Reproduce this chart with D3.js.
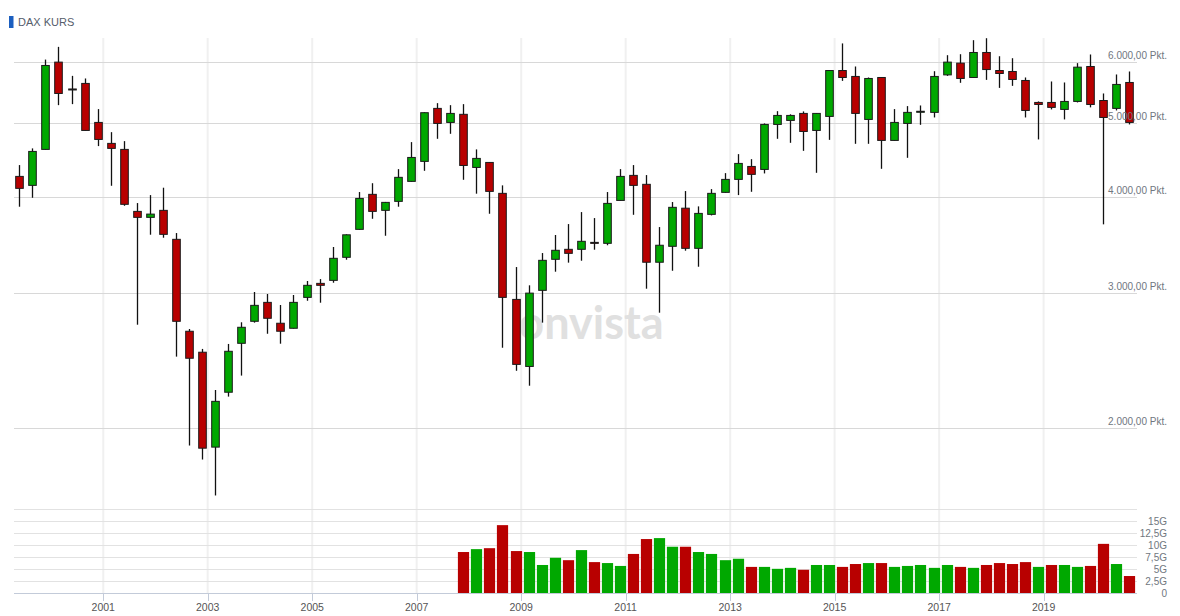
<!DOCTYPE html>
<html>
  <head>
    <meta charset="utf-8">
    <title>DAX Kurs - Quartalskerzen</title>
    <script src="https://d3js.org/d3.v7.min.js"></script>
    <style>
      body { margin: 0; background: #fff; }
      svg { display: block; font-family: "Liberation Sans", Arial, sans-serif; }
    </style>
  </head>

  <body>
    <svg width="1180" height="616"></svg>

    <script type="text/javascript">
      // quarterly candles, first one is Q2 1999
      var firstQuarter = new Date(1999, 3, 1);

      var open = [4254, 4141, 4613, 5994, 5530, 5623, 5002, 4697, 4613, 3830,
        3762, 3842, 3522, 2673, 2510, 1888, 2226, 2578, 2754, 2915,
        2738, 2697, 2959, 3086, 3114, 3337, 3629, 4031, 3842, 3947,
        4191, 4450, 5217, 5002, 5125, 4370, 4436, 4043, 2941, 2405,
        3022, 3317, 3418, 3418, 3490, 3480, 3958, 4267, 4154, 3288,
        3449, 3867, 3428, 3796, 4055, 4216, 4383, 4344, 4972, 5032,
        5139, 4883, 5093, 5845, 5742, 5047, 5724, 4739, 4987, 5165,
        5155, 5769, 5976, 5724, 6170, 5845, 5828, 5673, 5311, 5311,
        5201, 5327, 5916, 5342, 5217, 5639];
      var high = [4401, 4627, 6040, 6275, 5752, 5707, 5206, 4858, 4729, 3927,
        4022, 4112, 3589, 2691, 2535, 2241, 2573, 2746, 3007, 2989,
        2892, 2980, 3108, 3126, 3442, 3575, 4059, 4168, 3940, 4348,
        4715, 5155, 5300, 5268, 5284, 4613, 4440, 4141, 3241, 3068,
        3380, 3568, 3687, 3822, 3754, 4059, 4348, 4401, 4271, 3654,
        3939, 4071, 3888, 4095, 4296, 4548, 4480, 4987, 5174, 5125,
        5170, 5142, 5850, 6340, 5916, 5724, 5728, 5206, 5253, 5263,
        5833, 6120, 6138, 6402, 6440, 6101, 6065, 5724, 5327, 5656,
        5639, 5976, 6133, 5456, 5776, 5828];
      var low = [3884, 3990, 4610, 5268, 5284, 4880, 4659, 4136, 3895, 2726,
        3571, 3539, 2477, 1897, 1819, 1633, 2197, 2340, 2743, 2653,
        2575, 2695, 2929, 2912, 3092, 3313, 3625, 3746, 3560, 3884,
        4188, 4326, 4762, 4834, 4211, 4039, 3803, 2544, 2374, 2270,
        2743, 3196, 3284, 3303, 3414, 3460, 3955, 3791, 3037, 2826,
        3205, 3404, 3244, 3784, 4050, 4022, 4062, 4292, 4762, 4705,
        4593, 4300, 4747, 5666, 4691, 4691, 4352, 4735, 4498, 4966,
        5077, 5752, 5633, 5720, 5683, 5548, 5582, 5077, 4753, 5201,
        5047, 5311, 5233, 3684, 5185, 4972];
      var close = [4104, 4585, 5934, 5456, 5520, 4883, 4753, 4627, 3912, 3762,
        3799, 3575, 2754, 2465, 1882, 2166, 2517, 2705, 2889, 2779,
        2673, 2915, 3068, 3068, 3327, 3570, 3982, 3830, 3935, 4242,
        4503, 5150, 4987, 5139, 4396, 4490, 4067, 2959, 2420, 2997,
        3307, 3408, 3377, 3501, 3485, 3923, 4254, 4141, 3288, 3460,
        3877, 3428, 3807, 4043, 4216, 4423, 4280, 4972, 5108, 5108,
        4868, 5139, 5845, 5724, 5139, 5707, 4739, 5002, 5155, 5172,
        5742, 5994, 5707, 6170, 5862, 5793, 5690, 5185, 5279, 5233,
        5327, 5904, 5279, 5077, 5606, 5002];

      // volume in billions, available from Q4 2007 on
      var volumeStart = 34;
      var volume = [8.6, 9.2, 9.4, 14.2, 8.8, 8.6, 5.9, 7.4, 6.9, 9.0,
        6.5, 6.3, 5.7, 8.2, 11.3, 11.5, 9.7, 9.7, 8.6, 8.2,
        6.9, 7.2, 5.5, 5.5, 5.1, 5.3, 4.9, 5.9, 5.9, 5.5,
        6.1, 6.3, 6.3, 5.5, 5.7, 5.9, 5.3, 5.9, 5.5, 5.3,
        5.9, 6.3, 6.1, 6.5, 5.5, 5.9, 5.9, 5.5, 5.7, 10.3,
        6.1, 3.6];

      var priceTicks = [2000, 3000, 4000, 5000, 6000];
      var volumeTicks = [0, 2.5, 5, 7.5, 10, 12.5, 15, 17.5];
      var yearTicks = [2001, 2003, 2005, 2007, 2009, 2011, 2013, 2015, 2017, 2019];

      var red = "#b80000";
      var green = "#00a800";

      var de = d3.formatLocale({ decimal: ",", thousands: ".", grouping: [3], currency: ["", " €"] });
      var fmtPrice = de.format(",.2f");
      var fmtVol = de.format(".1~f");

      var candles = open.map(function (o, i) {
        return {
          date: d3.timeDay.offset(d3.timeMonth.offset(firstQuarter, 3 * i), 53),
          open: o, high: high[i], low: low[i], close: close[i]
        };
      });

      var vols = volume.map(function (v, j) {
        var i = j + volumeStart;
        return { date: candles[i].date, value: v, up: close[i] >= close[i - 1] };
      });

      var left = 14, right = 1137;
      var svg = d3.select("svg");

      var x = d3.scaleTime()
        .domain([new Date(1999, 3, 18), new Date(2020, 9, 15)])
        .range([left, right]);
      var y = d3.scaleLog().domain([1587, 6444]).range([505, 38]);
      var yv = d3.scaleLinear().domain([0, 17.5]).range([593.3, 509.3]);

      // vertical grid
      svg.append("g")
        .selectAll("line")
        .data(yearTicks)
        .enter()
        .append("line")
        .attr("x1", function (d) { return x(new Date(d, 0, 1)); })
        .attr("x2", function (d) { return x(new Date(d, 0, 1)); })
        .attr("y1", 38)
        .attr("y2", 593)
        .style("stroke", "#f0f0f0")
        .style("stroke-width", 2);

      // horizontal grid, price panel
      svg.append("g")
        .selectAll("line")
        .data(priceTicks)
        .enter()
        .append("line")
        .attr("x1", left)
        .attr("x2", right)
        .attr("y1", function (d) { return Math.round(y(d)) + 0.5; })
        .attr("y2", function (d) { return Math.round(y(d)) + 0.5; })
        .style("stroke", "#d8d8d8");

      // horizontal grid, volume panel
      svg.append("g")
        .selectAll("line")
        .data(volumeTicks.slice(1))
        .enter()
        .append("line")
        .attr("x1", left)
        .attr("x2", right)
        .attr("y1", function (d) { return Math.round(yv(d)) + 0.5; })
        .attr("y2", function (d) { return Math.round(yv(d)) + 0.5; })
        .style("stroke", "#e2e2e2");

      // watermark
      svg.append("text")
        .attr("x", 591)
        .attr("y", 339)
        .attr("text-anchor", "middle")
        .style("font-family", "Lato, sans-serif")
        .style("font-weight", "bold")
        .style("font-size", "45px")
        .style("fill", "#e0e0e0")
        .text("onvista");

      // candles
      var cg = svg.append("g");
      cg.selectAll("line")
        .data(candles)
        .enter()
        .append("line")
        .attr("x1", function (d) { return Math.round(x(d.date)) + 0.5; })
        .attr("x2", function (d) { return Math.round(x(d.date)) + 0.5; })
        .attr("y1", function (d) { return y(d.high); })
        .attr("y2", function (d) { return y(d.low); })
        .style("stroke", "#111")
        .style("stroke-width", 1.3);

      cg.selectAll("rect")
        .data(candles)
        .enter()
        .append("rect")
        .attr("x", function (d) { return Math.round(x(d.date)) + 0.5 - 3.8; })
        .attr("y", function (d) { return y(Math.max(d.open, d.close)); })
        .attr("width", 7.6)
        .attr("height", function (d) {
          return Math.max(y(Math.min(d.open, d.close)) - y(Math.max(d.open, d.close)), 1);
        })
        .style("fill", function (d) { return d.close >= d.open ? green : red; })
        .style("stroke", "#1a1a1a")
        .style("stroke-width", 1);

      // volume bars
      svg.append("g")
        .selectAll("rect")
        .data(vols)
        .enter()
        .append("rect")
        .attr("x", function (d) { return Math.round(x(d.date)) + 0.5 - 5.6; })
        .attr("y", function (d) { return yv(d.value); })
        .attr("width", 11.2)
        .attr("height", function (d) { return yv(0) - yv(d.value); })
        .style("fill", function (d) { return d.up ? green : red; });

      // price labels
      svg.append("g")
        .selectAll("text")
        .data(priceTicks)
        .enter()
        .append("text")
        .attr("x", 1167)
        .attr("y", function (d) { return y(d) - 3; })
        .attr("text-anchor", "end")
        .style("font-size", "10px")
        .style("fill", "#707780")
        .text(function (d) { return fmtPrice(d) + " Pkt."; });

      // volume labels
      svg.append("g")
        .selectAll("text")
        .data(volumeTicks.slice(0, -1))
        .enter()
        .append("text")
        .attr("x", 1167)
        .attr("y", function (d) { return yv(d); })
        .attr("dy", "0.35em")
        .attr("text-anchor", "end")
        .style("font-size", "10px")
        .style("fill", "#707780")
        .text(function (d) { return d === 0 ? "0" : fmtVol(d) + "G"; });

      // x axis
      var xAxis = svg.append("g");
      xAxis.append("line")
        .attr("x1", left)
        .attr("x2", right)
        .attr("y1", 593.5)
        .attr("y2", 593.5)
        .style("stroke", "#c3cbd9");
      xAxis.selectAll(".tick")
        .data(yearTicks)
        .enter()
        .append("line")
        .attr("x1", function (d) { return Math.round(x(new Date(d, 0, 1))) + 0.5; })
        .attr("x2", function (d) { return Math.round(x(new Date(d, 0, 1))) + 0.5; })
        .attr("y1", 594)
        .attr("y2", 601)
        .style("stroke", "#c3cbd9");
      xAxis.selectAll("text")
        .data(yearTicks)
        .enter()
        .append("text")
        .attr("x", function (d) { return x(new Date(d, 0, 1)); })
        .attr("y", 611)
        .attr("text-anchor", "middle")
        .style("font-size", "10.5px")
        .style("fill", "#555")
        .text(function (d) { return d; });

      // title
      svg.append("rect")
        .attr("x", 9)
        .attr("y", 16)
        .attr("width", 4.5)
        .attr("height", 12)
        .style("fill", "#1c5fbf");
      svg.append("text")
        .attr("x", 18)
        .attr("y", 26)
        .style("font-size", "11px")
        .style("fill", "#555d6b")
        .text("DAX KURS");
    </script>
  </body>
</html>
